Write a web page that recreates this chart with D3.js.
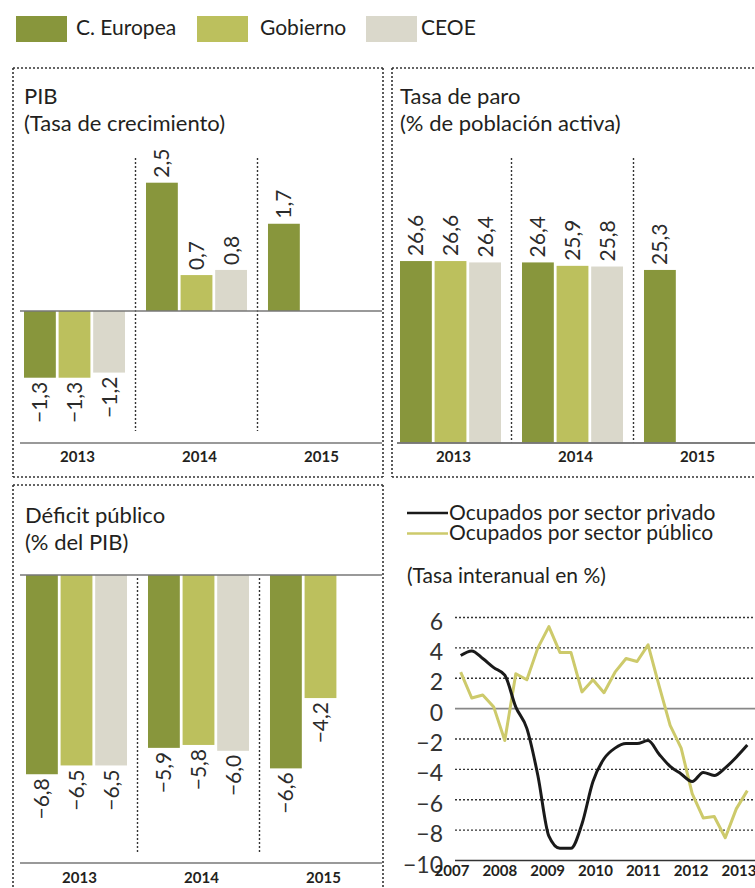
<!DOCTYPE html>
<html>
<head>
<meta charset="utf-8">
<script src="https://cdn.jsdelivr.net/npm/d3@7"></script>
<style>
  body { margin: 0; background: #fff; }
  svg { display: block; font-family: Lato, "Open Sans", sans-serif; }
</style>
</head>
<body>
<div id="chart"></div>
<script>
"use strict";
(function() {
    // ---- data ----
    const years = ["2013", "2014", "2015"];
    const seriesNames = ["C. Europea", "Gobierno", "CEOE"];
    const seriesColors = ["#88963c", "#bcc05d", "#dad8cb"];

    const pibEuropea = [-1.3, 2.5, 1.7];
    const pibGobierno = [-1.3, 0.7, null];
    const pibCeoe = [-1.2, 0.8, null];

    const paroEuropea = [26.6, 26.4, 25.3];
    const paroGobierno = [26.6, 25.9, null];
    const paroCeoe = [26.4, 25.8, null];

    const deficitEuropea = [-6.8, -5.9, -6.6];
    const deficitGobierno = [-6.5, -5.8, -4.2];
    const deficitCeoe = [-6.5, -6.0, null];

    // quarterly, 2007 T1 .. 2013 T3
    const privado = [3.5, 3.8, 3.3, 2.7, 2.2, 0.1, -1.3, -4.4, -8.4, -9.2, -9.2, -7.6, -4.8,
                     -3.3, -2.6, -2.3, -2.3, -2.1, -3.0, -3.8, -4.3, -4.8, -4.2, -4.4, -3.9, -3.2, -2.4];
    const publico = [2.4, 0.7, 0.9, 0.1, -2.1, 2.3, 1.9, 4.0, 5.4, 3.7, 3.7, 1.1, 1.9,
                     1.05, 2.4, 3.3, 3.1, 4.2, 1.5, -1.1, -2.6, -5.6, -7.2, -7.1, -8.5, -6.6, -5.4];
    const lineYears = ["2007", "2008", "2009", "2010", "2011", "2012", "2013"];
    const lineTicks = [6, 4, 2, 0, -2, -4, -6, -8, -10];

    const width = 755;
    const height = 888;
    const dotted = "2,2";
    const ink = "#231f20";

    const svg = d3.select("#chart").append("svg")
        .attr("width", width)
        .attr("height", height);

    function fmt(v) {
        return (v < 0 ? "\u2212" : "") + Math.abs(v).toFixed(1).replace(".", ",");
    }

    // ---- legend ----
    const legendX = [16, 197, 366];
    const legendTextX = [76, 260, 421];
    seriesNames.forEach(function(name, i) {
        svg.append("rect")
            .attr("x", legendX[i]).attr("y", 16)
            .attr("width", 51).attr("height", 26)
            .attr("fill", seriesColors[i]);
        svg.append("text")
            .attr("x", legendTextX[i]).attr("y", 35)
            .attr("font-size", "21px")
            .attr("fill", ink)
            .text(name);
    });

    // ---- dotted panel borders ----
    function dottedLine(x1, y1, x2, y2) {
        svg.append("line")
            .attr("x1", x1).attr("y1", y1).attr("x2", x2).attr("y2", y2)
            .attr("stroke", "#333").attr("stroke-width", 1.6)
            .attr("stroke-dasharray", dotted);
    }
    // top-left
    dottedLine(13, 68, 383, 68); dottedLine(13, 68, 13, 477);
    dottedLine(383, 68, 383, 477); dottedLine(13, 477, 383, 477);
    // top-right
    dottedLine(392, 68, 755, 68); dottedLine(392, 68, 392, 477);
    dottedLine(392, 477, 755, 477);
    // bottom-left
    dottedLine(13, 485, 383, 485); dottedLine(13, 485, 13, 888);
    dottedLine(383, 485, 383, 888);

    // ---- bar panels ----
    function drawBarPanel(p) {
        const g = svg.append("g");
        const values = [p.europea, p.gobierno, p.ceoe];

        g.append("text").attr("x", p.titleX).attr("y", p.titleY)
            .attr("font-size", "22px").attr("fill", ink).text(p.title1);
        g.append("text").attr("x", p.titleX).attr("y", p.titleY + 27)
            .attr("font-size", "22px").attr("fill", ink).text(p.title2);

        const x0 = d3.scaleBand()
            .domain(years)
            .range([p.groupStart, p.groupStart + 345])
            .paddingInner(0.172)
            .paddingOuter(0);
        const x1 = d3.scaleBand()
            .domain(seriesNames)
            .range([0, x0.bandwidth()])
            .paddingInner(0.08);
        const y = d3.scaleLinear().domain(p.domain).range(p.range);

        // separators
        [1, 2].forEach(function(i) {
            const sx = (x0(years[i - 1]) + x0.bandwidth() + x0(years[i])) / 2;
            g.append("line")
                .attr("x1", sx).attr("x2", sx)
                .attr("y1", p.sepTop).attr("y2", p.sepBottom)
                .attr("stroke", "#333").attr("stroke-width", 1.4)
                .attr("stroke-dasharray", dotted);
        });

        const rows = [];
        years.forEach(function(yr, i) {
            seriesNames.forEach(function(s, j) {
                if (values[j][i] !== null) rows.push({ year: yr, series: s, idx: j, value: values[j][i] });
            });
        });

        g.selectAll(".bar")
            .data(rows)
            .enter()
            .append("rect")
                .attr("x", d => x0(d.year) + x1(d.series))
                .attr("width", x1.bandwidth())
                .attr("y", d => Math.min(y(d.value), y(0)))
                .attr("height", d => Math.abs(y(d.value) - y(0)))
                .attr("fill", d => seriesColors[d.idx]);

        g.selectAll(".lbl")
            .data(rows)
            .enter()
            .append("text")
                .attr("transform", function(d) {
                    const cx = x0(d.year) + x1(d.series) + x1.bandwidth() / 2;
                    const cy = d.value >= 0 ? y(d.value) - 5 : y(d.value) + 4;
                    return "translate(" + cx + "," + cy + ") rotate(-90)";
                })
                .attr("dy", "0.36em")
                .attr("text-anchor", d => d.value >= 0 ? "start" : "end")
                .attr("font-size", "21px")
                .attr("font-weight", 400)
                .attr("fill", "#2b2b2b")
                .text(d => fmt(d.value));

        // zero line and bottom axis line
        g.append("line")
            .attr("x1", p.lineX[0]).attr("x2", p.lineX[1])
            .attr("y1", y(0)).attr("y2", y(0))
            .attr("stroke", "#777").attr("stroke-width", 1.6);
        g.append("line")
            .attr("x1", p.lineX[0]).attr("x2", p.lineX[1])
            .attr("y1", p.axisY).attr("y2", p.axisY)
            .attr("stroke", "#777").attr("stroke-width", 1.6);

        g.selectAll(".yr")
            .data(years)
            .enter()
            .append("text")
                .attr("x", d => x0(d) + x0.bandwidth() / 2 + 3)
                .attr("y", p.yearY)
                .attr("text-anchor", "middle")
                .attr("font-size", "15px")
                .attr("font-weight", "bold")
                .attr("fill", ink)
                .text(d => d);
    }

    drawBarPanel({
        title1: "PIB", title2: "(Tasa de crecimiento)", titleX: 24, titleY: 104,
        europea: pibEuropea, gobierno: pibGobierno, ceoe: pibCeoe,
        groupStart: 24, domain: [-2.5, 2.5], range: [311 + 128.3, 311 - 128.3],
        sepTop: 158, sepBottom: 431, lineX: [20, 382], axisY: 443, yearY: 462
    });
    drawBarPanel({
        title1: "Tasa de paro", title2: "(% de población activa)", titleX: 400, titleY: 104,
        europea: paroEuropea, gobierno: paroGobierno, ceoe: paroCeoe,
        groupStart: 400, domain: [0, 30], range: [443, 443 - 205.2],
        sepTop: 158, sepBottom: 443, lineX: [397, 755], axisY: 443, yearY: 462
    });
    drawBarPanel({
        title1: "Déficit público", title2: "(% del PIB)", titleX: 25, titleY: 523,
        europea: deficitEuropea, gobierno: deficitGobierno, ceoe: deficitCeoe,
        groupStart: 26, domain: [-7, 0], range: [575 + 205.1, 575],
        sepTop: 578, sepBottom: 852, lineX: [20, 382], axisY: 863, yearY: 883
    });

    // ---- line chart ----
    const lg = svg.append("g");
    const lineColors = ["#1a1a1a", "#cdca6b"];
    const lineNames = ["Ocupados por sector privado", "Ocupados por sector público"];
    lineNames.forEach(function(name, i) {
        const ly = 513 + i * 20.5;
        lg.append("line")
            .attr("x1", 407).attr("x2", 448).attr("y1", ly).attr("y2", ly)
            .attr("stroke", lineColors[i]).attr("stroke-width", 2.5);
        lg.append("text")
            .attr("x", 449).attr("y", ly + 6.5)
            .attr("font-size", "21px").attr("fill", ink)
            .text(name);
    });
    lg.append("text")
        .attr("x", 407).attr("y", 583)
        .attr("font-size", "21px").attr("fill", ink)
        .text("(Tasa interanual en %)");

    const lx = d3.scaleLinear().domain([0, privado.length - 1]).range([460.7, 747.3]);
    const ly = d3.scaleLinear().domain([-10, 6]).range([860.5, 617.5]);
    const yearPos = d3.scalePoint().domain(lineYears).range([452, 739]);

    lg.selectAll(".grid")
        .data(lineTicks)
        .enter()
        .append("line")
            .attr("x1", 455).attr("x2", 755)
            .attr("y1", d => ly(d)).attr("y2", d => ly(d))
            .attr("stroke", d => d === 0 ? "#888" : "#333")
            .attr("stroke-width", d => (d === 0 || d === -10) ? 1.6 : 1.3)
            .attr("stroke-dasharray", d => (d === 0 || d === -10) ? null : dotted);

    lg.selectAll(".ytick")
        .data(lineTicks)
        .enter()
        .append("text")
            .attr("x", 443)
            .attr("y", d => ly(d) + 4)
            .attr("dy", "0.35em")
            .attr("text-anchor", "end")
            .attr("font-size", "23px")
            .attr("font-weight", 400)
            .attr("fill", "#333")
            .text(d => (d < 0 ? "\u2212" : "") + Math.abs(d));

    lg.selectAll(".xtick")
        .data(lineYears)
        .enter()
        .append("text")
            .attr("x", d => yearPos(d))
            .attr("y", 876)
            .attr("text-anchor", "middle")
            .attr("font-size", "15px")
            .attr("font-weight", "bold")
            .attr("fill", ink)
            .text(d => d);

    const linePub = d3.line()
        .x((d, i) => lx(i))
        .y(d => ly(d));
    const linePriv = d3.line()
        .x((d, i) => lx(i))
        .y(d => ly(d))
        .curve(d3.curveMonotoneX);

    lg.append("path")
        .datum(publico)
        .attr("d", linePub)
        .attr("fill", "none")
        .attr("stroke", lineColors[1])
        .attr("stroke-width", 3)
        .attr("stroke-linejoin", "round");
    lg.append("path")
        .datum(privado)
        .attr("d", linePriv)
        .attr("fill", "none")
        .attr("stroke", lineColors[0])
        .attr("stroke-width", 3)
        .attr("stroke-linejoin", "round");
})();
</script>
</body>
</html>
